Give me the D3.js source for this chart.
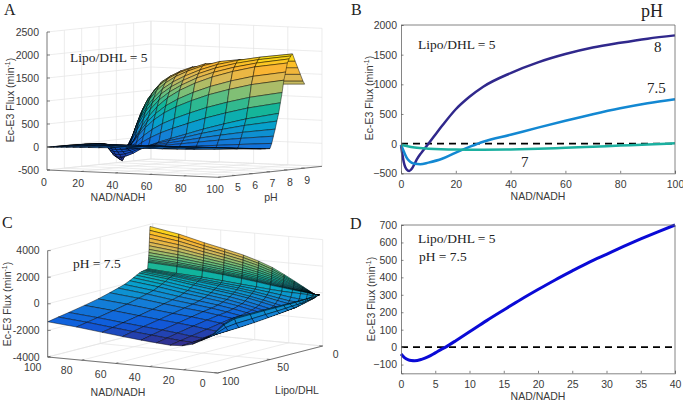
<!DOCTYPE html>
<html>
<head>
<meta charset="utf-8">
<script src="https://cdn.jsdelivr.net/npm/d3@7"></script>
<style>
  html, body { margin: 0; padding: 0; background: #fff; }
  svg { display: block; }
  text { font-family: "Liberation Sans", Arial, sans-serif; font-size: 10.5px; fill: #3a3a3a; }
  .serif { font-family: "Liberation Serif", "Times New Roman", serif; fill: #222; }
</style>
</head>
<body>
<script>
// panel A surface, rows far to near
const nadA = [0, 1, 2, 3.5, 5.5, 8, 11, 15, 19, 24, 30, 37, 46, 56, 68, 81, 100];
const phA = [9, 8.9, 8.75, 8.6, 8.45, 8.3, 8.2, 8.1, 8, 7.9, 7.8, 7.7, 7.6, 7.5, 7.4, 7.3, 7.2, 7.1, 7, 6.75, 6.5, 6, 5, 4];
const fluxA = [
  [-165, -50, 150, 330, 540, 760, 960, 1140, 1270, 1380, 1460, 1480, 1450, 1380, 1330, 1296, 1326],
  [-160, -70, 110, 290, 500, 730, 940, 1130, 1280, 1400, 1500, 1550, 1550, 1480, 1420, 1370, 1400],
  [-155, -100, 50, 200, 420, 660, 880, 1090, 1260, 1390, 1510, 1610, 1650, 1620, 1560, 1520, 1550],
  [-150, -130, -40, 70, 290, 540, 780, 1010, 1190, 1340, 1470, 1580, 1700, 1720, 1700, 1670, 1700],
  [-148, -170, -140, -80, 130, 390, 640, 890, 1080, 1250, 1400, 1530, 1660, 1770, 1830, 1820, 1850],
  [-145, -210, -240, -220, 0, 240, 480, 740, 930, 1130, 1290, 1430, 1580, 1710, 1820, 1910, 2010],
  [-143, -230, -310, -300, -100, 120, 360, 620, 820, 1020, 1190, 1340, 1500, 1640, 1760, 1860, 1970],
  [-140, -260, -370, -380, -200, 0, 220, 480, 690, 900, 1080, 1240, 1410, 1550, 1680, 1790, 1910],
  [-137, -280, -420, -450, -300, -130, 60, 320, 540, 760, 960, 1130, 1300, 1450, 1590, 1710, 1825],
  [-134, -253, -386, -425, -308, -169, -8, 217, 414, 610, 790, 946, 1105, 1250, 1388, 1510, 1632],
  [-130, -229, -355, -402, -315, -203, -67, 126, 302, 476, 639, 782, 931, 1073, 1209, 1333, 1460],
  [-127, -192, -309, -368, -326, -256, -159, -13, 130, 272, 407, 530, 665, 801, 935, 1061, 1196],
  [-123, -162, -270, -339, -336, -300, -236, -130, -13, 100, 213, 320, 443, 573, 705, 833, 976],
  [-120, -130, -230, -310, -345, -345, -315, -250, -160, -75, 15, 105, 215, 340, 470, 600, 750],
  [-117, -115, -186, -252, -282, -286, -264, -215, -146, -80, -10, 60, 147, 248, 355, 461, 586],
  [-114, -100, -141, -191, -217, -224, -212, -179, -131, -85, -37, 13, 77, 152, 234, 316, 415],
  [-110, -90, -101, -138, -160, -170, -166, -147, -118, -90, -60, -28, 15, 68, 129, 189, 266],
  [-105, -85, -75, -83, -101, -114, -118, -115, -104, -95, -83, -70, -47, -17, 21, 60, 113],
  [-100, -80, -60, -50, -60, -75, -85, -92, -95, -98, -100, -100, -92, -78, -55, -32, 5],
  [-85, -60, -45, -35, -38, -46, -52, -56, -58, -60, -60, -58, -52, -42, -28, -12, 12],
  [-70, -45, -35, -25, -22, -26, -30, -33, -34, -35, -34, -32, -26, -20, -10, 2, 20],
  [-45, -25, -15, -8, -4, -2, -1, 0, 1, 3, 5, 8, 12, 17, 24, 32, 45],
  [-15, -8, -3, 1, 5, 7, 10, 13, 17, 21, 26, 32, 40, 48, 58, 70, 85],
  [0, 0, 1, 4, 6, 9, 12, 17, 21, 27, 33, 41, 51, 62, 75, 90, 110]
];

// panel C surface, rows far to near
const nadC = [100, 83, 68, 56, 45, 36, 28, 21, 15, 10, 6, 3, 2.5, 1.5, 0];
const lipoC = [2.6, 2.75, 2.9, 3.05, 3.2, 3.35, 3.5, 3.65, 3.8, 3.95, 4.1, 4.25, 4.4, 4.8, 6, 7.5, 9, 11, 13, 15.5, 18.5, 22, 27, 33, 41, 52, 65, 80, 90, 100];
const fluxC = [
  [3840, 3470, 3000, 2670, 2350, 2000, 1620, 1170, 760, 400, 110, -110, -120, -110, -90],
  [3546, 3205, 2771, 2462, 2160, 1833, 1478, 1067, 691, 363, 98, -103, -113, -106, -90],
  [3253, 2940, 2542, 2254, 1969, 1666, 1336, 963, 621, 325, 86, -97, -107, -102, -90],
  [2959, 2675, 2314, 2046, 1779, 1498, 1194, 860, 552, 288, 74, -90, -100, -98, -90],
  [2665, 2410, 2085, 1838, 1589, 1331, 1052, 756, 483, 250, 62, -84, -94, -95, -90],
  [2398, 2169, 1877, 1649, 1416, 1179, 923, 662, 420, 216, 51, -78, -88, -91, -90],
  [2131, 1928, 1669, 1460, 1243, 1027, 794, 568, 357, 182, 40, -72, -82, -88, -90],
  [1891, 1711, 1482, 1290, 1087, 890, 678, 484, 300, 152, 30, -66, -76, -84, -90],
  [1677, 1518, 1315, 1139, 949, 769, 575, 409, 250, 125, 21, -61, -71, -82, -90],
  [1490, 1349, 1170, 1007, 828, 662, 485, 343, 206, 101, 13, -57, -67, -79, -90],
  [1357, 1229, 1066, 912, 741, 586, 420, 296, 174, 84, 8, -54, -64, -77, -90],
  [1250, 1132, 982, 837, 672, 526, 369, 258, 149, 70, 3, -52, -62, -76, -90],
  [1170, 1060, 920, 780, 620, 480, 330, 230, 130, 60, 0, -50, -60, -75, -90],
  [700, 560, 450, 330, 200, 110, 20, -40, -70, -90, -110, -190, -200, -230, -120],
  [670, 510, 340, 200, 80, -40, -170, -290, -400, -470, -490, -260, -270, -300, -170],
  [650, 470, 270, 110, -30, -180, -350, -510, -640, -680, -680, -265, -275, -320, -210],
  [630, 440, 210, 30, -130, -300, -480, -660, -800, -880, -700, -270, -280, -340, -250],
  [600, 370, 100, -110, -280, -470, -670, -860, -1010, -1030, -740, -275, -290, -370, -300],
  [540, 300, 20, -190, -380, -570, -780, -970, -1130, -1050, -790, -280, -295, -390, -340],
  [430, 160, -130, -350, -540, -740, -960, -1160, -1320, -1060, -850, -285, -300, -420, -400],
  [300, 30, -270, -480, -670, -880, -1090, -1290, -1370, -1090, -870, -290, -310, -440, -450],
  [150, -110, -400, -600, -790, -980, -1190, -1380, -1390, -1110, -880, -290, -310, -460, -520],
  [-30, -280, -550, -740, -920, -1100, -1290, -1470, -1430, -1150, -920, -290, -320, -480, -570],
  [-180, -420, -680, -860, -1030, -1210, -1390, -1570, -1470, -1200, -960, -290, -320, -520, -650],
  [-370, -580, -820, -990, -1130, -1290, -1430, -1600, -1530, -1250, -1020, -285, -330, -560, -730],
  [-610, -800, -1010, -1170, -1300, -1430, -1570, -1720, -1610, -1320, -1090, -285, -330, -600, -820],
  [-830, -1020, -1220, -1370, -1500, -1620, -1760, -1860, -1660, -1390, -1200, -300, -350, -650, -920],
  [-1060, -1240, -1440, -1590, -1720, -1840, -1970, -2050, -1740, -1470, -1280, -320, -370, -700, -1000],
  [-1200, -1390, -1600, -1760, -1900, -2010, -2110, -2160, -1860, -1540, -1300, -600, -620, -800, -1030],
  [-1350, -1540, -1760, -1930, -2070, -2170, -2250, -2200, -2020, -1700, -1440, -1150, -1130, -1100, -1070]
];

// panel B lines
const nadPh8 = [0, 0.5, 1, 1.5, 2, 3, 4, 5, 6, 7, 8, 10, 12, 15, 20, 25, 30, 40, 50, 60, 70, 80, 90, 100];
const fluxPh8 = [-20, -180, -310, -390, -430, -460, -420, -335, -250, -180, -120, 0, 120, 300, 580, 790, 960, 1190, 1370, 1510, 1620, 1700, 1770, 1825];
const nadPh75 = [0, 1, 2, 3, 4, 5, 7, 10, 15, 20, 25, 30, 40, 50, 60, 70, 80, 90, 100];
const fluxPh75 = [-20, -130, -230, -290, -325, -340, -348, -320, -255, -150, -55, 32, 150, 270, 385, 495, 595, 680, 750];
const nadPh7 = [0, 2, 5, 10, 20, 30, 40, 50, 60, 70, 80, 90, 100];
const fluxPh7 = [-20, -40, -65, -85, -100, -102, -98, -88, -70, -52, -33, -15, 5];

// panel D line
const nadD = [0, 0.5, 1, 1.5, 2, 3, 4, 5, 6, 6.5, 7, 8, 10, 12.5, 15, 17.5, 20, 22.5, 25, 27.5, 30, 32.5, 35, 37.5, 40];
const fluxD = [-40, -60, -72, -77, -78, -70, -55, -33, -10, 0, 12, 37, 88, 152, 213, 273, 330, 385, 437, 487, 532, 577, 620, 661, 700];

const parula = ["#352a87", "#0f5cdd", "#1481d6", "#06a4ca", "#12b59a", "#72c07a", "#d6b95a", "#fdb52e", "#f9e80e"];

const svg = d3.select("body").append("svg")
    .attr("width", 683)
    .attr("height", 401);

function drawSurface(o) {
    let g = svg.append("g");

    // screen position of a data point, built from one scale per axis
    let project = function(a, b, z) {
        return [o.x0 + o.aX(a) + o.bX(b),
                o.y0 + o.aY(a) + o.bY(b) + o.zY(z)];
    };
    let seg = function(pts, color, w) {
        g.append("path")
            .attr("d", d3.line()(pts))
            .attr("fill", "none")
            .attr("stroke", color)
            .attr("stroke-width", w);
    };

    // back walls and floor
    const grid = "#e4e4e4";
    o.aTicks.forEach(function(a) {
        seg([project(a, o.bNear, o.zMin), project(a, o.bFar, o.zMin), project(a, o.bFar, o.zMax)], grid, 0.7);
    });
    o.bTicks.forEach(function(b) {
        seg([project(o.aNear, b, o.zMin), project(o.aFar, b, o.zMin), project(o.aFar, b, o.zMax)], grid, 0.7);
    });
    o.zTicks.forEach(function(z) {
        seg([project(o.aFar, o.bNear, z), project(o.aFar, o.bFar, z), project(o.aNear, o.bFar, z)], grid, 0.7);
    });

    // surface faces, far to near so the nearer ones paint over
    let all = d3.merge(o.flux);
    let color = d3.scaleLinear()
        .domain(parula.map((c, i) => d3.interpolateNumber(d3.min(all), d3.max(all))(i / 8)))
        .range(parula);
    let faces = [];
    for (let j = 0; j < o.b.length - 1; j++) {
        for (let i = 0; i < o.a.length - 1; i++) {
            faces.push({
                pts: [project(o.a[i], o.b[j], o.flux[j][i]),
                      project(o.a[i + 1], o.b[j], o.flux[j][i + 1]),
                      project(o.a[i + 1], o.b[j + 1], o.flux[j + 1][i + 1]),
                      project(o.a[i], o.b[j + 1], o.flux[j + 1][i])],
                z: d3.mean([o.flux[j][i], o.flux[j][i + 1], o.flux[j + 1][i + 1], o.flux[j + 1][i]])
            });
        }
    }
    g.append("g").selectAll("path")
        .data(faces)
        .join("path")
        .attr("d", d => d3.line()(d.pts) + "Z")
        .attr("fill", d => color(d.z))
        .attr("stroke", "#000")
        .attr("stroke-width", 0.5)
        .attr("stroke-opacity", 0.9)
        .attr("stroke-linejoin", "round");

    // axes
    const axisColor = "#555";
    seg([project(o.aFar, o.bNear, o.zMin), project(o.aNear, o.bNear, o.zMin), project(o.aNear, o.bFar, o.zMin)], axisColor, 0.8);
    seg([project(o.aFar, o.bNear, o.zMin), project(o.aFar, o.bNear, o.zMax)], axisColor, 0.8);

    let aTick = o.bNear + (o.bFar - o.bNear) * 0.025;
    let bTick = o.aNear + (o.aFar - o.aNear) * 0.02;
    let label = function(p, off, s) {
        g.append("text")
            .attr("x", p[0] + off[0])
            .attr("y", p[1] + off[1])
            .attr("dy", "0.35em")
            .attr("text-anchor", "middle")
            .text(s);
    };
    o.aTicks.forEach(function(a) {
        seg([project(a, o.bNear, o.zMin), project(a, aTick, o.zMin)], axisColor, 0.7);
        label(project(a, o.bNear, o.zMin), o.aOff, a);
    });
    o.bLabels.forEach(function(b) {
        seg([project(o.aNear, b, o.zMin), project(bTick, b, o.zMin)], axisColor, 0.7);
        label(project(o.aNear, b, o.zMin), o.bOff, b);
    });
    o.zTicks.forEach(function(z) {
        let p = project(o.aFar, o.bNear, z);
        seg([p, [p[0] + 3, p[1]]], axisColor, 0.7);
        g.append("text")
            .attr("x", p[0] - 8)
            .attr("y", p[1])
            .attr("dy", "0.35em")
            .attr("text-anchor", "end")
            .text(z);
    });
}

function flat(o) {
    let g = svg.append("g");
    let x = d3.scaleLinear().domain(o.xDomain).range(o.xRange);
    let y = d3.scaleLinear().domain(o.yDomain).range(o.yRange);

    // zero line
    g.append("path")
        .datum(o.xDomain)
        .attr("d", d3.line().x(d => x(d)).y(y(0)))
        .attr("fill", "none")
        .attr("stroke", "#000")
        .attr("stroke-width", 1.8)
        .attr("stroke-dasharray", "7,5");

    o.lines.forEach(function(l) {
        g.append("path")
            .datum(d3.zip(l.x, l.y))
            .attr("d", d3.line().x(d => x(d[0])).y(d => y(d[1])).curve(d3.curveMonotoneX))
            .attr("fill", "none")
            .attr("stroke", l.color)
            .attr("stroke-width", l.width);
    });

    let xAxis = d3.axisBottom(x).tickValues(o.xTicks).tickFormat(d3.format("d")).tickSize(-2.5).tickPadding(7);
    let yAxis = d3.axisLeft(y).tickValues(o.yTicks).tickFormat(d3.format("d")).tickSize(-2.5).tickPadding(4);
    let gx = g.append("g").attr("transform", "translate(0," + o.yRange[0] + ")").call(xAxis);
    let gy = g.append("g").attr("transform", "translate(" + o.xRange[0] + ",0)").call(yAxis);
    [gx, gy].forEach(function(a) {
        a.attr("font-family", null).attr("font-size", null);
        a.selectAll("path, line").attr("stroke", "#666").attr("stroke-width", 0.8);
    });
    // box sides
    g.append("path")
        .attr("d", d3.line()([[o.xRange[0], o.yRange[1]], [o.xRange[1], o.yRange[1]], [o.xRange[1], o.yRange[0]]]))
        .attr("fill", "none")
        .attr("stroke", "#666")
        .attr("stroke-width", 0.8);
}

function yTitle(x, y) {
    let t = svg.append("text")
        .attr("transform", "translate(" + x + "," + y + ") rotate(-90)")
        .attr("text-anchor", "middle");
    t.append("tspan").text("Ec-E3 Flux (min");
    t.append("tspan").attr("dy", -4).attr("font-size", 7).text("-1");
    t.append("tspan").attr("dy", 4).text(")");
}

function title(x, y, s) {
    svg.append("text").attr("x", x).attr("y", y).attr("dy", "0.35em").attr("text-anchor", "middle").text(s);
}

function note(x, y, s, size) {
    svg.append("text").attr("class", "serif").attr("x", x).attr("y", y).style("font-size", (size || 13.5) + "px").text(s);
}

// A
drawSurface({
    a: nadA, b: phA, flux: fluxA,
    x0: 47, y0: 170,
    aX: d3.scaleLinear().domain([0, 100]).range([0, 171]),
    aY: d3.scaleLinear().domain([0, 100]).range([0, 7.3]),
    bX: d3.scaleLinear().domain([4, 10]).range([0, 104]),
    bY: d3.scaleLinear().domain([4, 10]).range([0, -11]),
    zY: d3.scaleLinear().domain([-500, 2500]).range([0, -138]),
    aNear: 100, aFar: 0, bNear: 4, bFar: 10, zMin: -500, zMax: 2500,
    aTicks: [0, 20, 40, 60, 80, 100],
    bTicks: [5, 6, 7, 8, 9, 10],
    bLabels: [5, 6, 7, 8, 9],
    zTicks: [-500, 0, 500, 1000, 1500, 2000, 2500],
    aOff: [-3, 12], bOff: [2.5, 12]
});

// C
drawSurface({
    a: nadC, b: lipoC, flux: fluxC,
    x0: 47.7, y0: 357,
    aX: d3.scaleLinear().domain([100, 0]).range([0, 170]),
    aY: d3.scaleLinear().domain([100, 0]).range([0, 16]),
    bX: d3.scaleLinear().domain([100, 0]).range([0, 105]),
    bY: d3.scaleLinear().domain([100, 0]).range([0, -27]),
    zY: d3.scaleLinear().domain([-4000, 4000]).range([0, -106.4]),
    aNear: 0, aFar: 100, bNear: 100, bFar: 0, zMin: -4000, zMax: 4000,
    aTicks: [0, 20, 40, 60, 80, 100],
    bTicks: [0, 50, 100],
    bLabels: [0, 50, 100],
    zTicks: [-4000, -2000, 0, 2000, 4000],
    aOff: [-15, 10.5], bOff: [13, 8]
});

// B
flat({
    xDomain: [0, 100], xRange: [401, 675],
    yDomain: [-500, 2000], yRange: [173.3, 25],
    xTicks: [0, 20, 40, 60, 80, 100],
    yTicks: [-500, 0, 500, 1000, 1500, 2000],
    lines: [
        { x: nadPh8, y: fluxPh8, color: "#30288c", width: 2.5 },
        { x: nadPh75, y: fluxPh75, color: "#1388d2", width: 2.5 },
        { x: nadPh7, y: fluxPh7, color: "#1bb0a0", width: 2.5 }
    ]
});

// D
flat({
    xDomain: [0, 40], xRange: [401, 675],
    yDomain: [-150, 700], yRange: [373.3, 225],
    xTicks: [0, 5, 10, 15, 20, 25, 30, 35, 40],
    yTicks: [-100, 0, 100, 200, 300, 400, 500, 600, 700],
    lines: [{ x: nadD, y: fluxD, color: "#0a0ad6", width: 3 }]
});

yTitle(14, 100);
yTitle(11, 304);
yTitle(373, 98);
yTitle(375, 299);

title(118, 197, "NAD/NADH");
title(271, 197, "pH");
title(118, 392, "NAD/NADH");
title(297, 390, "Lipo/DHL");
title(538, 196, "NAD/NADH");
title(538, 396, "NAD/NADH");

note(4, 15, "A", 16);
note(351, 15, "B", 16);
note(2, 228, "C", 16);
note(350, 229, "D", 16);

note(70, 62, "Lipo/DHL = 5");
note(73, 268, "pH = 7.5");
note(418, 49, "Lipo/DHL = 5");
note(641, 17, "pH", 18);
note(654, 52, "8", 15);
note(647, 93, "7.5", 15);
note(521, 167, "7", 15);
note(418, 243, "Lipo/DHL = 5");
note(419, 261, "pH = 7.5");
</script>
</body>
</html>
